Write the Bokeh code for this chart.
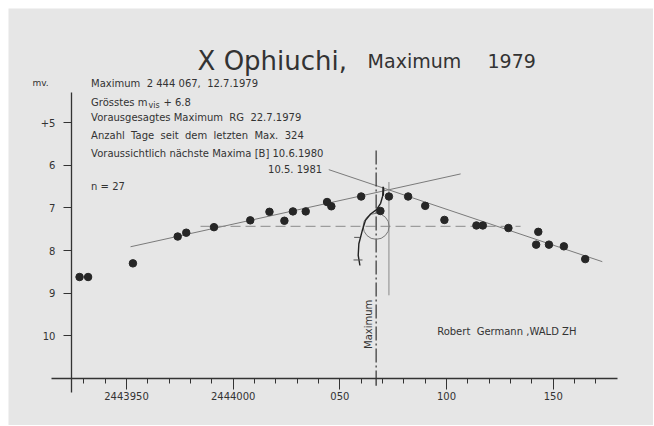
import numpy as np
from bokeh.plotting import figure
from bokeh.models import Range1d, FixedTicker, Label
from bokeh.embed import file_html
from bokeh.resources import INLINE

# ---------------- data ----------------
jd = [2443928, 2443932, 2443953, 2443974, 2443978, 2443991, 2444008, 2444017,
      2444024, 2444028, 2444034, 2444044, 2444046, 2444060, 2444069, 2444073,
      2444082, 2444090, 2444099, 2444114, 2444117, 2444129, 2444143, 2444142,
      2444148, 2444155, 2444165]
mag = [8.62, 8.62, 8.30, 7.67, 7.58, 7.45, 7.29, 7.09,
       7.30, 7.08, 7.08, 6.86, 6.96, 6.73, 7.07, 6.73,
       6.73, 6.95, 7.28, 7.41, 7.41, 7.47, 7.56, 7.86,
       7.86, 7.90, 8.20]

rise_jd = [2443951.9, 2444106.6]
rise_mag = [7.91, 6.20]
fall_jd = [2444044.8, 2444173.0]
fall_mag = [6.10, 8.26]
mean_jd = [2443984.7, 2444134.7]
mean_mag = [7.43, 7.43]

max_jd = 2444067
max_line_mag = [5.65, 11.0]
max_tick_mag = [11.0, 11.17]
max_mag_mark = 7.43
pred_jd = 2444073
pred_line_mag = [6.39, 9.05]

curve_jd = [2444070.6, 2444070.0, 2444069.1, 2444067.2, 2444064.4, 2444062.0,
            2444060.5, 2444058.9, 2444058.6, 2444059.4]
curve_mag = [6.55, 6.73, 6.89, 7.04, 7.14, 7.29, 7.53, 7.84, 8.11, 8.35]
curve_tick_x0 = [2444056.7, 2444056.4]
curve_tick_x1 = [2444059.5, 2444060.6]
curve_tick_mag = [7.69, 8.22]

x_major = [2443950, 2444000, 2444050, 2444100, 2444150]
x_major_labels = ["2443950", "2444000", "050", "100", "150"]
x_minor = list(range(2443930, 2444171, 10))
y_major = [5, 6, 7, 8, 9, 10]
y_major_labels = ["+5", "6", "7", "8", "9", "10"]

x_axis_at_mag = 11.0
y_axis_at_jd = 2443924.2

BG = "#e6e6e6"
INK = "#333333"
FONT = "DejaVu Sans"
NB = "\u00a0"

p = figure(width=645, height=417, output_backend="svg", toolbar_location=None,
           x_range=Range1d(2443894.69, 2444197.0), y_range=Range1d(12.106, 2.317),
           min_border_left=0, min_border_bottom=0, min_border_top=0, min_border_right=0)
p.margin = (8, 0, 0, 8)
p.background_fill_color = BG
p.border_fill_color = BG
p.outline_line_color = None
p.xgrid.visible = False
p.ygrid.visible = False

xa = p.xaxis[0]
xa.fixed_location = x_axis_at_mag
xa.ticker = FixedTicker(ticks=x_major, minor_ticks=x_minor)
xa.major_label_overrides = dict(zip(x_major, x_major_labels))
xa.bounds = (2443914.85, 2444180.3)
xa.axis_line_color = INK
xa.axis_line_width = 1.3
xa.major_tick_line_color = INK
xa.minor_tick_line_color = INK
xa.major_tick_out = 11
xa.major_tick_in = 0
xa.minor_tick_out = 5
xa.minor_tick_in = 0
xa.major_label_standoff = 3
xa.major_label_text_font = FONT
xa.major_label_text_font_size = "10px"
xa.major_label_text_color = INK

ya = p.yaxis[0]
ya.fixed_location = y_axis_at_jd
ya.ticker = FixedTicker(ticks=y_major)
ya.major_label_overrides = dict(zip(y_major, y_major_labels))
ya.bounds = (4.3, 11.34)
ya.axis_line_color = INK
ya.axis_line_width = 1.3
ya.major_tick_line_color = INK
ya.minor_tick_line_color = None
ya.major_tick_out = 8
ya.major_tick_in = 0
ya.major_label_standoff = 8
ya.major_label_text_font = FONT
ya.major_label_text_font_size = "10px"
ya.major_label_text_color = INK

# construction lines
p.line(rise_jd, rise_mag, line_color="#7a7a7a", line_width=1)
p.line(fall_jd, fall_mag, line_color="#7a7a7a", line_width=1)
p.line(mean_jd, mean_mag, line_color="#8a8a8a", line_width=1, line_dash="10 5")
p.line([max_jd, max_jd], max_line_mag, line_color=INK, line_width=1.2, line_dash="14 3 2 3")
p.line([max_jd, max_jd], max_tick_mag, line_color=INK, line_width=1.3)
p.line([pred_jd, pred_jd], pred_line_mag, line_color="#8a8a8a", line_width=1)
p.scatter([max_jd], [max_mag_mark], marker="circle", size=26, fill_color=None,
          line_color="#777777", line_width=1)
p.line(curve_jd, curve_mag, line_color="#222222", line_width=1.4)
p.segment(x0=curve_tick_x0, y0=curve_tick_mag, x1=curve_tick_x1, y1=curve_tick_mag,
          line_color="#555555", line_width=1)
p.segment(x0=[2444070.3], y0=[6.50], x1=[2444070.3], y1=[6.71], line_color="#222222", line_width=1.8)

# observations
p.scatter(jd, mag, marker="circle", size=7.5, fill_color="#262626", line_color="#262626")


def lab(x, y, text, size="10px", align="left", baseline="middle", angle=0, color=INK):
    p.add_layout(Label(x=x, y=y, text=text, text_font=FONT, text_font_size=size,
                       text_color=color, text_align=align, text_baseline=baseline,
                       angle=angle))


# title
lab(2443983.3, 3.54, "X Ophiuchi,", size="26px", baseline="alphabetic")
lab(2444063.0, 3.54, "Maximum", size="19px", baseline="alphabetic")
lab(2444119.2, 3.54, "1979", size="19px", baseline="alphabetic")

lab(2443905.9, 4.07, "mv.", size="9px")
x0 = 2443933.4
lab(x0, 4.07, "Maximum" + NB + " 2 444 067," + NB + " 12.7.1979")
lab(x0, 4.52, "Grösstes m")
lab(2443960.3, 4.60, "vis", size="8px")
lab(2443967.3, 4.52, "+ 6.8")
lab(x0, 4.88, "Vorausgesagtes Maximum" + NB + " RG" + NB + " 22.7.1979")
lab(x0, 5.31, "Anzahl" + NB + " Tage" + NB + " seit" + NB + " dem" + NB + " letzten" + NB + " Max." + NB + " 324")
lab(x0, 5.73, "Voraussichtlich nächste Maxima [B] 10.6.1980")
lab(2444041.7, 6.09, "10.5. 1981", align="right")
lab(x0, 6.49, "n = 27")
lab(2444063.6, 9.73, "Maximum", angle=np.pi / 2, align="center")
lab(2444095.6, 9.89, "Robert" + NB + " Germann ,WALD ZH")

open("out.html", "w").write(file_html(p, INLINE))
